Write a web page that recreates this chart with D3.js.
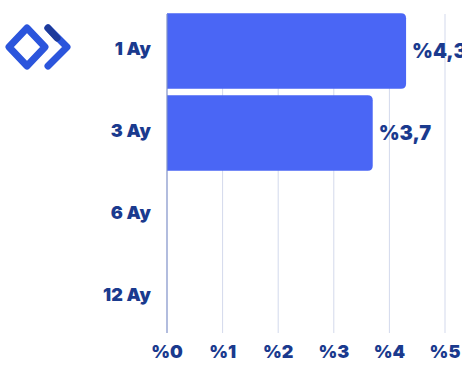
<!DOCTYPE html>
<html>
<head>
<meta charset="utf-8">
<script src="https://cdn.jsdelivr.net/npm/d3@7"></script>
<style>
  body { margin: 0; background: #fff; }
  svg { display: block; }
  text { font-family: Inter, "Open Sans", sans-serif; font-weight: 900; fill: #1a3a8e; }
</style>
</head>
<body>
<div id="chart"></div>
<script>
let categories = ["1 Ay", "3 Ay", "6 Ay", "12 Ay"];
let values = [4.3, 3.7, null, null];
let valueLabels = ["%4,3", "%3,7", "", ""];
let tickValues = [0, 1, 2, 3, 4, 5];
let tickLabels = ["%0", "%1", "%2", "%3", "%4", "%5"];

let width = 462, height = 367;
let x0 = 167;

let svg = d3.select("#chart").append("svg")
    .attr("width", width)
    .attr("height", height);

let xScale = d3.scaleLinear().domain([0, 5]).range([x0, x0 + 5 * 55.6]);
let yScale = d3.scaleBand().domain(categories).range([10, 338]).paddingInner(0.08).paddingOuter(0.04);

// gridlines
svg.append("g")
    .selectAll("line")
    .data(tickValues.slice(1))
    .enter().append("line")
    .attr("x1", (d) => xScale(d))
    .attr("x2", (d) => xScale(d))
    .attr("y1", 14)
    .attr("y2", 333)
    .attr("stroke", "#d3d9ec")
    .attr("stroke-width", 1);

// bars with rounded right end
let r = 5;
svg.append("g")
    .selectAll("path")
    .data(categories.map((c, i) => ({c: c, v: values[i]})).filter((d) => d.v != null))
    .enter().append("path")
    .attr("fill", "#4a66f5")
    .attr("d", (d) => {
        let xa = xScale(0), xb = xScale(d.v), ya = yScale(d.c), yb = ya + yScale.bandwidth();
        return "M" + xa + "," + ya + "H" + (xb - r) + "Q" + xb + "," + ya + " " + xb + "," + (ya + r)
            + "V" + (yb - r) + "Q" + xb + "," + yb + " " + (xb - r) + "," + yb + "H" + xa + "Z";
    });

// axis line
svg.append("line")
    .attr("x1", xScale(0)).attr("x2", xScale(0))
    .attr("y1", 14).attr("y2", 333)
    .attr("stroke", "#7f90c8")
    .attr("stroke-width", 1.2);

// value labels
svg.append("g")
    .selectAll("text")
    .data(categories.map((c, i) => ({c: c, v: values[i], l: valueLabels[i]})).filter((d) => d.v != null))
    .enter().append("text")
    .attr("x", (d) => xScale(d.v) + 6)
    .attr("y", (d) => yScale(d.c) + yScale.bandwidth() / 2)
    .attr("dy", "0.35em")
    .style("font-size", "20px")
    .text((d) => d.l);

// category labels
svg.append("g")
    .selectAll("text")
    .data(categories)
    .enter().append("text")
    .attr("x", 151)
    .attr("y", (d) => yScale(d) + yScale.bandwidth() / 2 - 2)
    .attr("dy", "0.35em")
    .attr("text-anchor", "end")
    .style("font-size", "18px")
    .text((d) => d);

// tick labels
svg.append("g")
    .selectAll("text")
    .data(tickValues)
    .enter().append("text")
    .attr("x", (d) => xScale(d))
    .attr("y", 352)
    .attr("dy", "0.35em")
    .attr("text-anchor", "middle")
    .style("font-size", "18px")
    .text((d, i) => tickLabels[i]);

// logo
let logo = svg.append("g").attr("fill", "none").attr("stroke-linejoin", "round").attr("stroke-linecap", "round");
logo.append("path")
    .attr("d", "M27,28 L45,47 L27,66 L9,47 Z")
    .attr("stroke", "#2b55dc")
    .attr("stroke-width", 7);
logo.append("path")
    .attr("d", "M48,28 L67,47 L48,66")
    .attr("stroke", "#2b55dc")
    .attr("stroke-width", 7);
logo.append("path")
    .attr("d", "M48,28 L57,38")
    .attr("stroke", "#1d3a9a")
    .attr("stroke-width", 7);
</script>
</body>
</html>
